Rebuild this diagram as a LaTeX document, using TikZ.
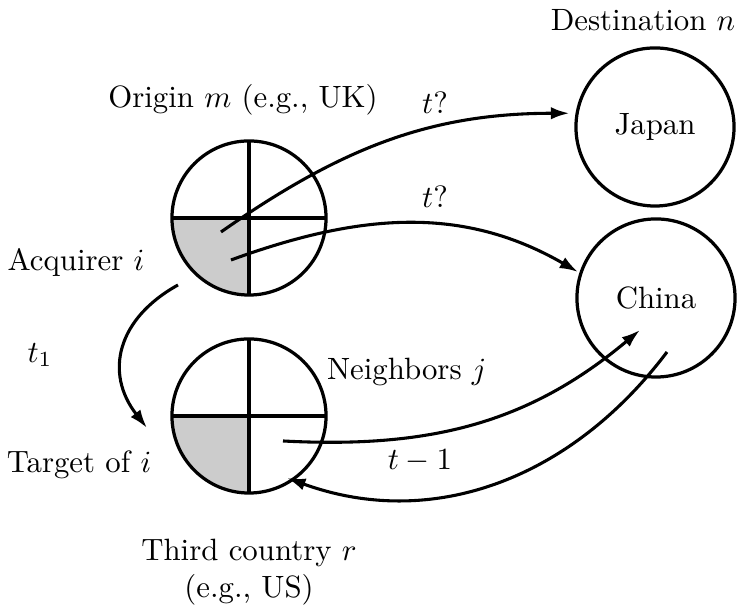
\documentclass[tikz,border=0pt]{standalone}
\usetikzlibrary{arrows.meta}
\begin{document}
\begin{tikzpicture}[x=0.3245pt,y=0.3245pt,
  every node/.style={outer sep=0pt},
  ctry/.style={circle, draw, line width=1.05pt, minimum size=50pt, inner sep=0pt},
  dstn/.style={circle, draw, line width=1.05pt, minimum size=51.3pt, inner sep=0pt},
  cross/.style={line width=1pt},
  shade/.style={fill=black!20},
  arr/.style={line width=1pt, -{Latex[length=6pt,width=4pt]}},
  lbl/.style={inner sep=0pt}]
\useasboundingbox (0,0) rectangle (746,608);
% shaded quadrants
\begin{scope}
  \clip (249,390) circle[radius=25pt];
  \fill[shade] (249,390) rectangle (160,300);
\end{scope}
\begin{scope}
  \clip (249,192) circle[radius=25pt];
  \fill[shade] (249,192) rectangle (160,100);
\end{scope}
% circles
\node[ctry] (org) at (249,390) {};
\node[ctry] (tg) at (249,192) {};
\node[dstn] (jp) at (655,481) {Japan};
\node[dstn] (cn) at (656,310) {China};
\draw[cross] (org.north) -- (org.south);
\draw[cross] (org.west) -- (org.east);
\draw[cross] (tg.north) -- (tg.south);
\draw[cross] (tg.west) -- (tg.east);
% labels
\node[lbl] (destl) at (643,588) {Destination $n$};
\node[lbl] (orgl) at (243,508) {Origin $m$ (e.g., UK)};
\node[lbl] (acq) at (76,346) {Acquirer $i$};
\node[lbl] (tone) at (40,253) {$t_1$};
\node[lbl, anchor=west] (nb) at (327,236) {Neighbors $j$};
\node[lbl] (tgl) at (79,143) {Target of $i$};
\node[lbl] (tm) at (420,147) {$t-1$};
\node[lbl] (tqa) at (435,505) {$t?$};
\node[lbl] (tqb) at (435,411) {$t?$};
\node[lbl] (third) at (249,55) {Third country $r$};
\node[lbl] (us) at (249,18) {(e.g., US)};
% free ends
\coordinate (oa) at (221,376);
\coordinate (ob) at (231,348);
\coordinate (os) at (178,323);
\coordinate (te) at (147,180);
\coordinate (ta) at (283,167);
\coordinate (cin) at (640,278);
\coordinate (cout) at (667,256);
\coordinate (tin) at (287,130);
% connectors
\draw[arr, shorten >=2.5pt] (oa) to[out=35, in=180] (jp.170);
\draw[arr, shorten >=1pt] (ob) to[out=20, in=150] (cn.162);
\draw[arr] (os) to[out=209, in=128, looseness=1.22] (te);
\draw[arr] (ta) to[out=-3, in=220] (cin);
\draw[arr] (cout) to[out=233, in=340] (tin);
\end{tikzpicture}
\end{document}
